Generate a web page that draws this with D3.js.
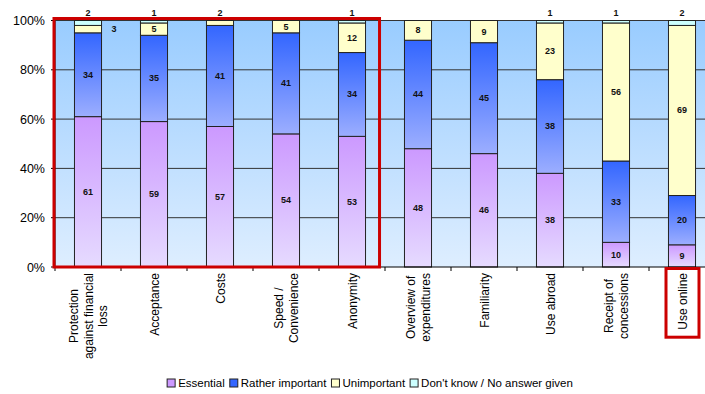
<!DOCTYPE html>
<meta charset="utf-8">
<style>
body { margin: 0; background: #fff; }
svg { font-family: "Liberation Sans", Arial, sans-serif; display: block; }
.seglabel { font-size: 9px; font-weight: bold; fill: #111; }
.xlab { font-size: 12px; fill: #000; }
.ytick { font-size: 12.5px; fill: #000; }
.legend text { font-size: 11.5px; fill: #000; }
</style>
<svg width="705" height="394"></svg>
<script src="https://d3js.org/d3.v7.min.js"></script>
<script>

var categories = ["Protection\nagainst financial\nloss", "Acceptance", "Costs", "Speed /\nConvenience", "Anonymity",
                  "Overview of\nexpenditures", "Familiarity", "Use abroad", "Receipt of\nconcessions", "Use online"];
var essential   = [61, 59, 57, 54, 53, 48, 46, 38, 10, 9];
var rather      = [34, 35, 41, 41, 34, 44, 45, 38, 33, 20];
var unimportant = [3, 5, 2, 5, 12, 8, 9, 23, 56, 69];
var dontKnow    = [2, 1, 0, 0, 1, 0, 0, 1, 1, 2];
var seriesNames = ["Essential", "Rather important", "Unimportant", "Don't know / No answer given"];
var yTicks = [0, 20, 40, 60, 80, 100];

var svg = d3.select("svg");
var plotLeft = 55, plotRight = 715, plotTop = 20.5, plotBottom = 267;

var x = d3.scaleBand()
    .domain(categories)
    .range([plotLeft, plotRight])
    .paddingInner(0.59)
    .paddingOuter(0.295);

var y = d3.scaleLinear()
    .domain([0, 100])
    .range([plotBottom, plotTop]);

var defs = svg.append("defs");
function grad(id, c1, c2) {
  var g = defs.append("linearGradient").attr("id", id)
      .attr("x1", 0).attr("y1", 0).attr("x2", 0).attr("y2", 1);
  g.append("stop").attr("offset", "0%").attr("stop-color", c1);
  g.append("stop").attr("offset", "100%").attr("stop-color", c2);
}
grad("bg", "#99ccff", "#deeeff");
grad("g0", "#cc99ff", "#e6dbff");
grad("g1", "#3366ff", "#9caeff");
var fills = ["url(#g0)", "url(#g1)", "#ffffcc", "#ccffff"];
var legendFills = ["#cc99ff", "#3366ff", "#ffffcc", "#ccffff"];

// plot background
svg.append("rect")
    .attr("x", plotLeft).attr("y", plotTop)
    .attr("width", plotRight - plotLeft).attr("height", plotBottom - plotTop)
    .attr("fill", "url(#bg)");

// gridlines
svg.append("g").selectAll("line")
  .data(yTicks.filter(function(d) { return d > 0; }))
  .enter().append("line")
    .attr("x1", plotLeft).attr("x2", plotRight)
    .attr("y1", function(d) { return y(d); })
    .attr("y2", function(d) { return y(d); })
    .attr("stroke", "#333").attr("stroke-width", 1);

// stacked data
var table = categories.map(function(c, i) {
  return { cat: c, values: [essential[i], rather[i], unimportant[i], dontKnow[i]] };
});

var bars = svg.append("g").selectAll("g")
  .data(table)
  .enter().append("g");

bars.each(function(d) {
  var g = d3.select(this);
  var cum = 0;
  var segs = d.values.map(function(v, k) {
    var s = { k: k, v: v, y0: cum, y1: cum + v };
    cum += v;
    return s;
  }).filter(function(s) { return s.v > 0; });

  g.selectAll("rect").data(segs).enter().append("rect")
      .attr("x", x(d.cat))
      .attr("width", x.bandwidth())
      .attr("y", function(s) { return y(s.y1); })
      .attr("height", function(s) { return y(s.y0) - y(s.y1); })
      .attr("fill", function(s) { return fills[s.k]; })
      .attr("stroke", "#222").attr("stroke-width", 1);

  var small = segs.filter(function(s) { return s.v <= 3; });
  var cx = x(d.cat) + x.bandwidth() / 2;
  segs.forEach(function(s) {
    var tx = cx, ty = y((s.y0 + s.y1) / 2) + 3;
    if (s.v <= 3) {
      if (s === small[small.length - 1]) { ty = 15.5; }
      else { tx = cx + 26; }
    }
    g.append("text").attr("class", "seglabel")
        .attr("x", tx).attr("y", ty)
        .attr("text-anchor", "middle")
        .text(s.v);
  });
});

// axes lines
svg.append("line").attr("x1", plotLeft).attr("x2", plotLeft).attr("y1", plotTop).attr("y2", plotBottom)
    .attr("stroke", "#000");
svg.append("line").attr("x1", plotLeft).attr("x2", plotRight).attr("y1", plotBottom).attr("y2", plotBottom)
    .attr("stroke", "#000");

// y ticks
var yt = svg.append("g");
yTicks.forEach(function(t) {
  yt.append("line").attr("x1", plotLeft - 4).attr("x2", plotLeft)
      .attr("y1", y(t)).attr("y2", y(t)).attr("stroke", "#000");
  yt.append("text").attr("class", "ytick")
      .attr("x", plotLeft - 10).attr("y", y(t) + 4.5)
      .attr("text-anchor", "end")
      .text(t + "%");
});

// x ticks at band boundaries
d3.range(categories.length + 1).forEach(function(i) {
  var bx = plotLeft + i * x.step();
  svg.append("line").attr("x1", bx).attr("x2", bx)
      .attr("y1", plotBottom).attr("y2", plotBottom + 4).attr("stroke", "#000");
});

// x labels, rotated, multi-line
var labelTop = 273;
var labelNodes = [];
categories.forEach(function(c) {
  var lines = c.split("\n");
  var cx = x(c) + x.bandwidth() / 2;
  var g = svg.append("g");
  var texts = lines.map(function(l) {
    return g.append("text").attr("class", "xlab").attr("text-anchor", "middle").text(l);
  });
  var maxW = d3.max(texts, function(t) { return t.node().getComputedTextLength(); });
  var lh = 14.5;
  texts.forEach(function(t, j) {
    var off = (j - (lines.length - 1) / 2) * lh;
    t.attr("transform", "translate(" + (cx + off + 4.5) + "," + (labelTop + maxW / 2) + ") rotate(-90)");
  });
  labelNodes.push({ cat: c, g: g, maxW: maxW, n: lines.length });
});

// red highlight boxes
svg.append("rect")
    .attr("x", plotLeft - 1).attr("y", plotTop - 2)
    .attr("width", x(categories[4]) + x.bandwidth() + 14 - plotLeft + 1)
    .attr("height", plotBottom - plotTop + 2)
    .attr("fill", "none").attr("stroke", "#cc0000").attr("stroke-width", 3);

var last = labelNodes[labelNodes.length - 1];
var lcx = x(last.cat) + x.bandwidth() / 2;
svg.append("rect")
    .attr("x", lcx - 16).attr("y", plotBottom + 1.5)
    .attr("width", 33).attr("height", last.maxW + 12)
    .attr("fill", "none").attr("stroke", "#cc0000").attr("stroke-width", 3);

// legend
var legend = svg.append("g").attr("class", "legend");
var lx = 0;
seriesNames.forEach(function(n, i) {
  var it = legend.append("g").attr("transform", "translate(" + lx + ",0)");
  it.append("rect").attr("x", 0).attr("y", -8).attr("width", 8).attr("height", 8)
      .attr("fill", legendFills[i]).attr("stroke", "#222").attr("stroke-width", 1);
  var t = it.append("text").attr("x", 11).attr("y", 0).text(n);
  lx += 11 + t.node().getComputedTextLength() + 5;
});
legend.attr("transform", "translate(" + (370 - (lx - 5) / 2) + ",387)");

</script>
